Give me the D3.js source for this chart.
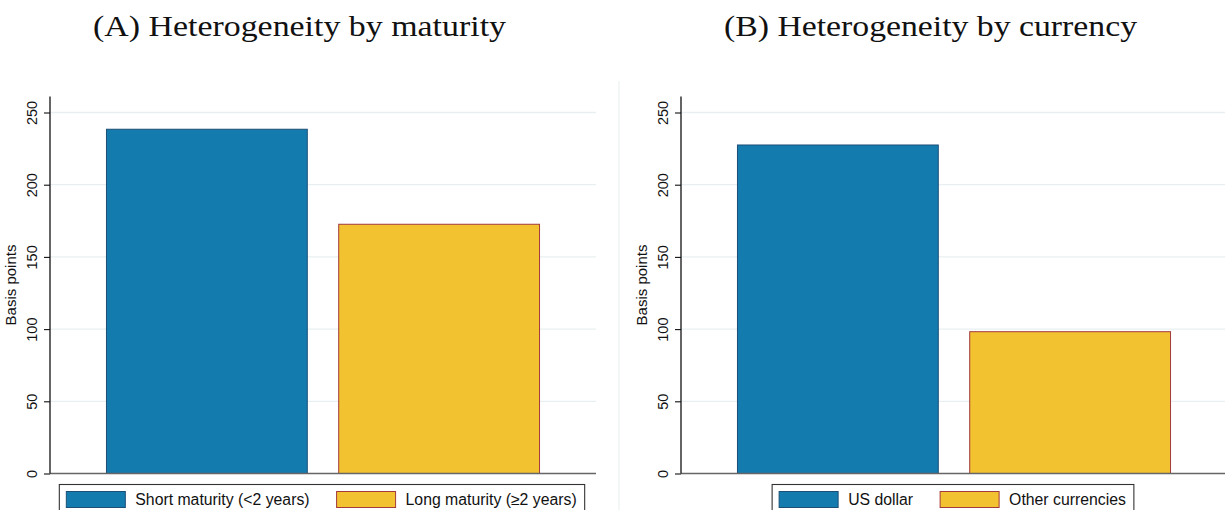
<!DOCTYPE html>
<html>
<head>
<meta charset="utf-8">
<script src="https://cdn.jsdelivr.net/npm/d3@7"></script>
<style>
  html, body { margin: 0; padding: 0; background: #ffffff; }
  svg { display: block; }
</style>
</head>
<body>
<svg id="chart" width="1225" height="510"></svg>
<script>
// Panel titles
const panelTitles = ["(A) Heterogeneity by maturity", "(B) Heterogeneity by currency"];

// Panel A: spread by maturity bucket (basis points)
const maturityLabels = ["Short maturity (<2 years)", "Long maturity (\u22652 years)"];
const maturityValues = [238.4, 172.6];

// Panel B: spread by currency (basis points)
const currencyLabels = ["US dollar", "Other currencies"];
const currencyValues = [227.5, 98.2];

// Shared y axis
const yTicks = [0, 50, 100, 150, 200, 250];
const yLabel = "Basis points";

const barFill = ["#137bae", "#f2c230"];
const barStroke = ["#1c4f76", "#a33a3c"];
const gridColor = "#e9eff1";

const svg = d3.select("#chart");

const plotTop = 112.5, plotBottom = 473.5, plotWidth = 546;
const panels = [
  { left: 50, title: panelTitles[0], labels: maturityLabels, values: maturityValues },
  { left: 681, title: panelTitles[1], labels: currencyLabels, values: currencyValues }
];

// light divider between the two graphs
svg.append("line")
  .attr("x1", 619).attr("x2", 619)
  .attr("y1", 81).attr("y2", 510)
  .attr("stroke", "#e8eef0").attr("stroke-width", 1);

const y = d3.scaleLinear().domain([0, 250]).range([plotBottom, plotTop]);

panels.forEach(p => {
  const g = svg.append("g").attr("transform", `translate(${p.left},0)`);

  const x = d3.scaleBand()
    .domain(p.labels)
    .range([0, plotWidth])
    .paddingInner(0.131)
    .paddingOuter(0.241);

  // title
  svg.append("text")
    .attr("x", p.left + 249.5)
    .attr("y", 36)
    .attr("text-anchor", "middle")
    .attr("font-family", "'Liberation Serif', 'DejaVu Serif', serif")
    .attr("font-size", 29.5)
    .attr("textLength", 413)
    .attr("lengthAdjust", "spacingAndGlyphs")
    .attr("fill", "#111")
    .text(p.title);

  // gridlines
  g.append("g").selectAll("line")
    .data(yTicks.filter(t => t > 0))
    .join("line")
    .attr("x1", 0).attr("x2", plotWidth)
    .attr("y1", d => y(d)).attr("y2", d => y(d))
    .attr("stroke", gridColor).attr("stroke-width", 1.3);

  // bars
  g.append("g").selectAll("rect")
    .data(p.values)
    .join("rect")
    .attr("x", (d, i) => x(p.labels[i]) + 0.5)
    .attr("y", d => y(d))
    .attr("width", x.bandwidth() - 1)
    .attr("height", d => plotBottom - y(d))
    .attr("fill", (d, i) => barFill[i])
    .attr("stroke", (d, i) => barStroke[i])
    .attr("stroke-width", 1);

  // x axis line
  g.append("line")
    .attr("x1", 0).attr("x2", plotWidth)
    .attr("y1", plotBottom).attr("y2", plotBottom)
    .attr("stroke", "#666").attr("stroke-width", 1.3);

  // y axis
  const yAxis = d3.axisLeft(y).tickValues(yTicks).tickSize(6).tickPadding(4);
  const ya = g.append("g").call(yAxis);
  ya.select(".domain").attr("stroke", "#111").attr("stroke-width", 1.3)
    .attr("d", `M0,${plotTop - 16}V${plotBottom}`);
  ya.selectAll(".tick line").attr("stroke", "#111").attr("stroke-width", 1.1);
  ya.selectAll(".tick text")
    .attr("font-family", "'Liberation Sans', Arial, sans-serif")
    .attr("font-size", 14.5)
    .attr("fill", "#111")
    .attr("text-anchor", "middle")
    .attr("dy", null)
    .attr("x", null)
    .attr("transform", "translate(-13,0) rotate(-90)")
    .attr("y", 0);

  // y axis title
  g.append("text")
    .attr("transform", `translate(-34,${(plotTop + plotBottom) / 2 - 8}) rotate(-90)`)
    .attr("text-anchor", "middle")
    .attr("font-family", "'Liberation Sans', Arial, sans-serif")
    .attr("font-size", 15)
    .attr("fill", "#111")
    .text(yLabel);

  // legend
  const lg = g.append("g");
  const box = lg.append("rect")
    .attr("fill", "#fff").attr("stroke", "#333").attr("stroke-width", 1.1);
  let cx = 7;
  p.labels.forEach((lab, i) => {
    lg.append("rect")
      .attr("x", cx).attr("y", 491.5)
      .attr("width", 59).attr("height", 16)
      .attr("fill", barFill[i]).attr("stroke", barStroke[i]).attr("stroke-width", 1);
    const t = lg.append("text")
      .attr("x", cx + 69).attr("y", 504.5)
      .attr("font-family", "'Liberation Sans', Arial, sans-serif")
      .attr("font-size", 15.8)
      .attr("fill", "#111")
      .text(lab);
    const w = t.node().getComputedTextLength();
    cx = cx + 69 + w + 27;
  });
  const boxW = cx - 27 + 8;
  box.attr("x", 0).attr("y", 484.5).attr("width", boxW).attr("height", 34);
  lg.attr("transform", `translate(${plotWidth / 2 - boxW / 2 - 1},0)`);
});
</script>
</body>
</html>
